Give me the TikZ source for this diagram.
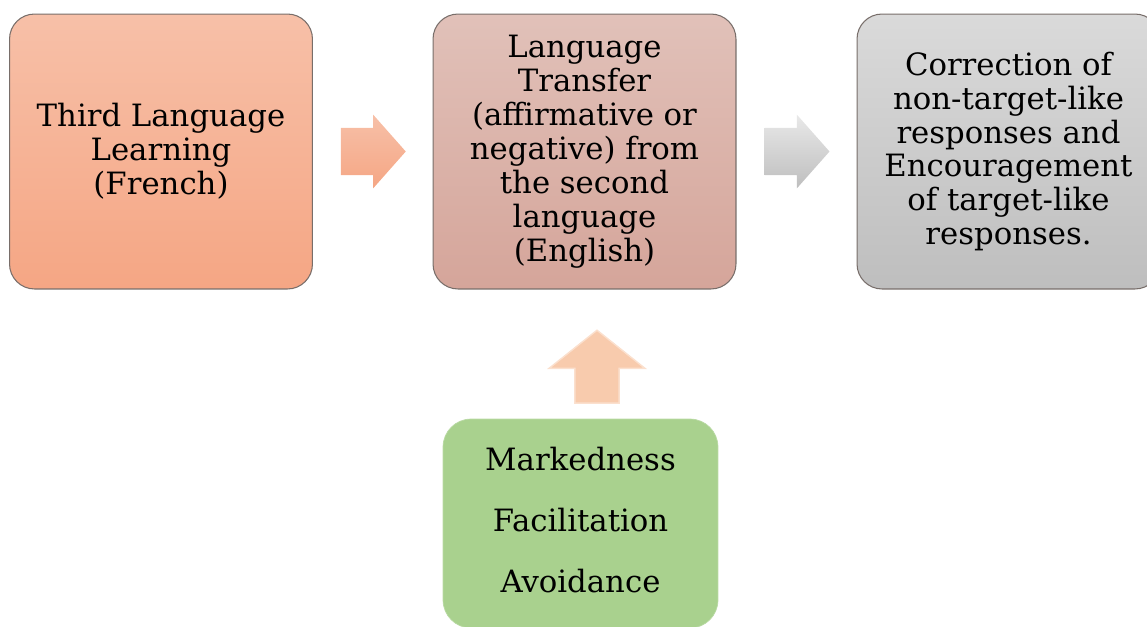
\documentclass[tikz,border=0pt]{standalone}
\usepackage{fontspec}
\setmainfont{DejaVu Serif}
\usepackage{tikz}
\usetikzlibrary{shapes.arrows, positioning, calc}
\definecolor{peachtop}{RGB}{247, 192, 168}
\definecolor{peachbot}{RGB}{245, 166, 132}
\definecolor{rosetop}{RGB}{225, 193, 185}
\definecolor{rosebot}{RGB}{213, 165, 154}
\definecolor{greytop}{RGB}{218, 218, 218}
\definecolor{greybot}{RGB}{190, 190, 190}
\definecolor{leafgreen}{RGB}{169, 209, 142}
\definecolor{uparrow}{RGB}{248, 203, 173}
\definecolor{boxline}{RGB}{120, 110, 106}

\begin{document}
\begin{tikzpicture}[
  x=0.02cm, y=-0.02cm,
  every node/.style={font=\fontsize{17.5}{19.3}\selectfont},
  stage/.style={draw=boxline, line width=0.6pt, rounded corners=0.5cm, minimum width=6.06cm, minimum height=5.5cm, inner sep=0pt, align=center},
  factors/.style={fill=leafgreen, draw=leafgreen!80!white, rounded corners=0.56cm, minimum width=5.5cm, minimum height=4.18cm, inner sep=0pt, align=center},
  flow/.style={single arrow, draw=none, inner sep=0pt, inner ysep=0.44cm, minimum height=1.3cm, minimum width=1.48cm, single arrow tip angle=97},
  feed/.style={single arrow, shape border rotate=90, fill=uparrow, draw=uparrow!60!white, line width=0.8pt, inner xsep=0.2cm, inner ysep=0pt, minimum height=1.46cm, minimum width=1.92cm, single arrow tip angle=103}
]
  \useasboundingbox (0,0) rectangle (1147,626);

  % Top row
  \node[stage, top color=peachtop, bottom color=peachbot] (third) at (161, 151.5) {Third Language\\Learning\\(French)};
  \node[stage, top color=rosetop, bottom color=rosebot] (transfer) at (584.5, 151.5) {Language\\Transfer\\(affirmative or\\negative) from\\the second\\language\\(English)};
  \node[stage, top color=greytop, bottom color=greybot] (correct) at (1008.5, 151.5) {Correction of\\non-target-like\\responses and\\Encouragement\\of target-like\\responses.};

  % Block arrows between the boxes
  \node[flow, top color=peachtop, bottom color=peachbot] (arrA) at ($(third.east)!0.5!(transfer.west)+(-10,0)$) {};
  \node[flow, top color=greytop!60!white, bottom color=greybot] (arrB) at ($(transfer.east)!0.5!(correct.west)+(-10,0)$) {};

  % Factors below
  \node[factors] (factors) at (580.5, 523.5) {Markedness\\[15.3pt]Facilitation\\[15.3pt]Avoidance\\[-14.8pt]};
  \node[feed] (arrC) at (597, 375.5) {};

\end{tikzpicture}
\end{document}
